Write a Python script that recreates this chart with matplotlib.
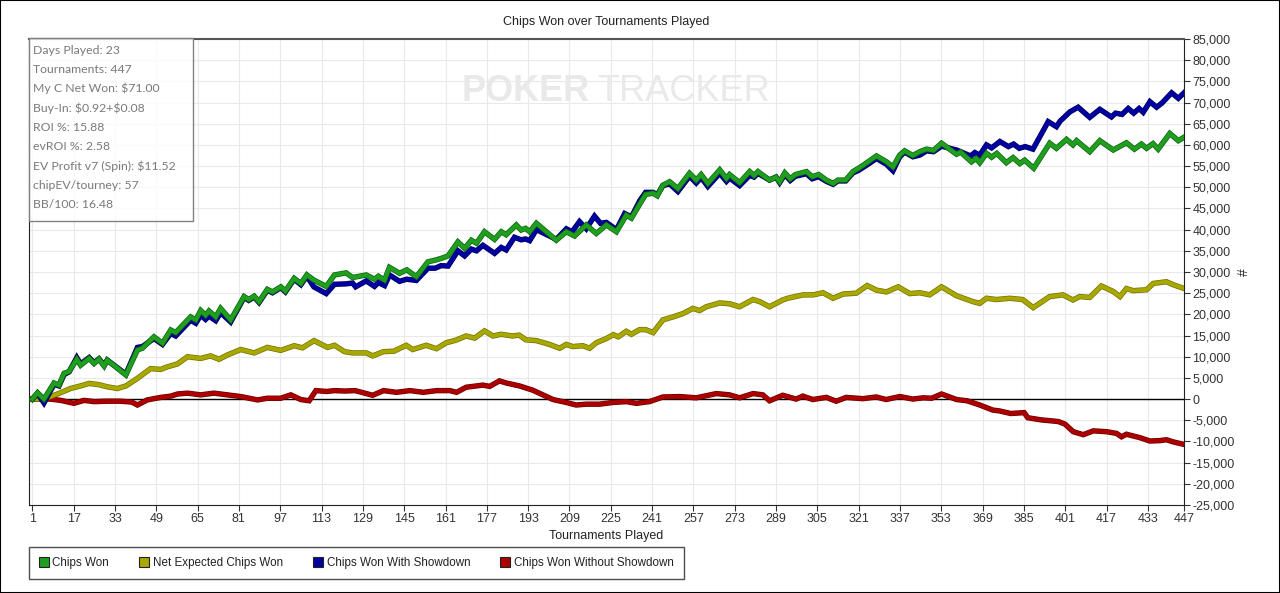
import matplotlib
matplotlib.use("Agg")
import matplotlib.pyplot as plt
import matplotlib.patheffects as pe
from matplotlib.lines import Line2D
from matplotlib.patches import Rectangle
from matplotlib.ticker import FuncFormatter

# --- data (tournament number, chips in thousands) ---
won_x = [1, 3, 5.5, 9.4, 11.3, 13.3, 15.2, 18.2, 19.7, 23, 24.9, 26.8, 28.8, 30,
         37.2, 41.7, 43.6, 48.1, 51.4, 54.6, 56.5, 62.3, 64.3, 66.2, 68.1, 69.4,
         72, 73.9, 77.8, 83, 84.8, 86.9, 88.8, 92, 94, 97.2, 99, 102.4, 105,
         107.3, 110, 114.8, 118, 122.5, 125, 130.3, 133.5, 135, 137.4, 139.3,
         143.2, 146, 149.7, 154.2, 157, 159.3, 162, 165.8, 168.4, 171, 173,
         176.1, 180, 182.6, 184.5, 188.4, 190.3, 192, 193.6, 196.2, 203.9,
         207.8, 211, 215.5, 219.4, 223.3, 227.2, 231, 233, 236.2, 238.5, 241.4,
         243, 245.2, 247.8, 251, 255.5, 258.1, 260, 262.6, 267.2, 269.8, 271,
         274.9, 278.8, 280.5, 282, 286.5, 289, 290.4, 292.4, 294.5, 296.5,
         300.8, 303, 305.5, 308.5, 311.1, 313, 316, 318.8, 321, 323, 325.3,
         327.9, 331.8, 334.3, 336.9, 338.8, 342, 344.7, 347.3, 350, 353.1,
         358.9, 360.5, 364.7, 366.5, 367.9, 370.5, 372.5, 374.5, 378.2, 380.8,
         383.4, 385.3, 388.8, 395, 397.6, 401.5, 404, 405.4, 410.5, 414.4,
         419.6, 424.7, 427.8, 430.5, 432.5, 435, 437, 441.5, 444.8, 447]
won_y = [0, 1.5, 0, 3.8, 3.3, 6.1, 6.5, 9.4, 8.0, 9.6, 8.4, 9.4, 7.8, 9.2,
         5.7, 11.6, 12.0, 14.7, 13.2, 16.3, 15.7, 19.4, 18.7, 20.9, 19.8, 20.8,
         19.4, 21.4, 18.7, 24.2, 23.5, 24.3, 23.0, 25.9, 25.3, 26.5, 25.5, 28.5,
         27.3, 29.3, 28.1, 26.6, 29.3, 29.8, 28.7, 29.3, 28.3, 29.0, 28.1, 31.1,
         29.7, 30.5, 28.9, 32.4, 32.8, 33.2, 33.8, 37.1, 35.6, 37.5, 36.8,
         39.5, 37.7, 39.5, 38.8, 41.1, 39.9, 40.3, 39.5, 41.5, 37.5,
         39.5, 38.5, 41.1, 39.1, 41.1, 39.5, 43.4, 42.7, 46.0, 48.3, 48.6,
         48.0, 50.5, 51.3, 49.7, 53.3, 51.7, 53.0, 50.9, 54.1, 52.1, 53.0,
         51.1, 53.7, 52.8, 53.7, 51.7, 52.4, 51.3, 53.4, 52.0, 53.0,
         53.7, 52.5, 53.0, 51.7, 50.9, 51.7, 51.7, 53.7, 54.5, 55.3, 56.3,
         57.4, 56.0, 54.8, 57.6, 58.6, 57.5, 58.4, 59.0, 58.7, 60.4,
         57.8, 58.3, 56.0, 56.8, 55.8, 58.0, 57.1, 58.0, 55.8, 57.0,
         55.6, 56.4, 54.5, 60.4, 59.2, 61.3, 60.0, 61.0, 58.4, 61.0,
         58.8, 60.5, 59.0, 60.2, 59.2, 60.3, 59.0, 62.7, 61.0, 61.8]

sd_x = [1, 3, 5.5, 9.4, 11.3, 13.3, 15.2, 18.2, 19.7, 23, 24.9, 26.8, 28.8, 30,
        37.2, 41.7, 43.6, 48.1, 51.4, 54.6, 56.5, 62.3, 64.3, 66.2, 68.1, 69.4,
        72, 73.9, 77.8, 83, 84.8, 86.9, 88.8, 92, 94, 97.2, 99, 102.4, 105,
        107.3, 110, 114.8, 118, 122.5, 125, 126.2, 130.3, 133.5, 135, 137.4,
        139.3, 143.2, 146, 149.7, 154.2, 157, 159.3, 162, 165.8, 168.4, 171,
        173, 175.5, 180, 182.6, 184.5, 187.7, 190.3, 192, 193.6, 196.2, 203.9,
        207.8, 210, 212.9, 215.5, 218.7, 221, 223.3, 227.2, 230.4, 233, 236.2,
        238.5, 241.4, 243, 245.2, 247.8, 251, 255.5, 258.1, 260, 262.6, 267.2,
        269.8, 271, 274.9, 278.8, 280.5, 282, 286.5, 289, 290.4, 292.4, 294.5,
        296.5, 300.8, 303, 305.5, 308.5, 311.1, 313, 316, 318.8, 321, 323,
        325.3, 327.9, 331.8, 334.3, 336.9, 338.8, 342, 344.7, 347.3, 350,
        353.1, 358.9, 364.3, 366, 367.9, 370.5, 372.5, 375.7, 379, 381, 383.2,
        385.5, 388.5, 394.4, 397.6, 399, 402.8, 406, 410.5, 414.4, 418.9,
        420.5, 423, 425.4, 427.5, 429.6, 431.2, 433.8, 436.4, 438.5, 442.2,
        444.8, 447]
sd_y = [0, 1.3, -0.9, 3.5, 3.1, 5.8, 6.4, 9.8, 8.3, 9.8, 8.6, 9.5, 8.0, 9.2,
        5.9, 12.2, 12.4, 14.3, 12.9, 15.5, 14.9, 18.6, 17.9, 19.8, 18.8, 19.6,
        18.5, 20.4, 18.2, 24.0, 23.3, 24.1, 22.8, 25.7, 25.1, 26.3, 25.3, 28.3,
        27.0, 29.0, 26.5, 24.9, 27.1, 27.2, 27.4, 26.5, 27.9, 26.6, 27.5, 26.8,
        29.3, 27.8, 28.3, 28.0, 30.9, 30.9, 31.5, 31.4, 35.0, 33.8, 35.4,
        35.0, 36.3, 34.4, 35.8, 35.2, 38.2, 37.6, 37.8, 37.4, 40.0, 37.7,
        40.2, 39.5, 41.9, 40.2, 43.2, 41.5, 41.7, 40.0, 43.8, 43.0, 46.8,
        48.8, 48.8, 48.2, 50.4, 50.8, 49.0, 52.6, 51.0, 52.3, 50.2, 53.3,
        51.4, 52.2, 50.4, 52.8, 52.4, 53.3, 51.7, 52.4, 51.1, 53.0, 51.6,
        52.6, 53.2, 52.0, 52.5, 51.4, 50.7, 51.5, 51.5, 53.4, 54.0, 54.8,
        55.7, 56.8, 55.4, 53.9, 57.2, 58.3, 57.2, 57.6, 58.6, 58.4,
        59.7, 58.8, 57.4, 58.2, 57.6, 60.0, 59.3, 60.8, 59.6, 60.2, 59.2,
        59.6, 59.0, 65.5, 64.3, 65.6, 67.8, 68.9, 66.5, 68.4, 66.6,
        67.5, 67.2, 68.6, 67.5, 68.6, 67.7, 70.2, 68.9, 69.9, 72.3,
        71.0, 72.3]

ev_x = [1, 4.9, 8.1, 11.5, 15.8, 19.6, 23, 26.8, 30, 33.9, 37.2, 41.7, 46.8,
        50.7, 53.2, 57.2, 61.1, 66.2, 70, 73.3, 76.5, 81.7, 86.9, 92, 97.2,
        102.4, 105.6, 110.1, 115.3, 118, 121.9, 125, 130.3, 132.8, 137, 141,
        145.8, 148.3, 153.5, 157.5, 161.3, 165, 169, 172.3, 176.1, 179.4,
        182.5, 187, 189.5, 192.1, 196.2, 201.3, 205.2, 207.8, 210.3, 214.2,
        216.8, 219.4, 223.3, 226, 227.9, 231, 233, 236.2, 238.5, 241.4, 245.2,
        249.1, 253, 256.8, 259.4, 262, 267.2, 271, 274.9, 280.1, 282.7, 286.5,
        291.6, 293.5, 299.5, 303.4, 307.2, 311.1, 315, 320.1, 324.3, 328,
        331.8, 336.3, 340.8, 344.7, 348.5, 353.1, 358.9, 365.3, 367.9, 370.5,
        374.4, 379.5, 384.5, 388.6, 395, 400.1, 404, 406.6, 410.5, 415, 419.6,
        422.2, 424.7, 427.3, 432.5, 435.1, 440.2, 442.8, 447]
ev_y = [0, 0, 0.6, 1.4, 2.5, 3.1, 3.7, 3.4, 2.9, 2.5, 3.1, 4.9, 7.2,
        7.0, 7.6, 8.3, 10.0, 9.6, 10.2, 9.4, 10.4, 11.7, 10.9, 12.2, 11.5,
        12.6, 12.1, 13.8, 12.2, 12.7, 11.2, 10.9, 10.9, 10.2, 11.2, 11.3,
        12.7, 11.7, 12.7, 11.9, 13.3, 13.9, 14.9, 14.4, 16.1, 14.9,
        15.3, 14.9, 15.1, 14.0, 13.8, 12.9, 12.0, 12.9, 12.4, 12.6,
        12.0, 13.3, 14.3, 15.2, 14.7, 16.0, 15.3, 16.4, 16.4, 15.7, 18.7,
        19.4, 20.2, 21.4, 20.9, 21.8, 22.7, 22.5, 21.8, 23.5, 23.0, 21.8,
        23.4, 23.8, 24.6, 24.6, 25.1, 23.8, 24.8, 25.0, 26.8, 25.7,
        25.3, 26.5, 24.9, 25.1, 24.6, 26.5, 24.4, 23.0, 22.6, 23.8,
        23.5, 23.8, 23.5, 21.6, 24.2, 24.6, 23.4, 24.2, 24.0, 26.7, 25.4,
        24.2, 26.1, 25.6, 25.8, 27.3, 27.7, 27.0, 26.1]

nosd_x = [1, 8, 12, 17.1, 21, 24.9, 30, 35, 39.5, 41.7, 45.5, 50.7, 54.6, 57.2,
          61.1, 66.2, 71.3, 76.5, 81.7, 88.2, 92, 97.2, 101.1, 104.9, 108.2,
          110.8, 115, 118, 122, 126, 132.8, 137, 142, 147.2, 152.4, 157.5,
          162.7, 165.3, 169, 175.5, 178.1, 181.9, 184.5, 189.7, 194.8, 198.7,
          202.6, 207.8, 211.6, 215.5, 220.7, 225.8, 231, 234.9, 240, 245.2,
          251.7, 258.1, 265.9, 271, 274.9, 280.1, 283.9, 286.5, 291.6, 296.8,
          299.4, 303.2, 308.5, 312.3, 316.2, 322.6, 327.8, 331.6, 337, 342,
          346, 349.3, 353.1, 358.9, 363, 367.9, 373, 375.6, 379.9, 385.1,
          386.5, 391.6, 398.3, 400.9, 404.1, 408, 411.9, 417, 420.9, 422.8,
          424.7, 429.9, 433.8, 437.7, 440.2, 442.8, 447]
nosd_y = [0, 0, -0.3, -1.0, -0.3, -0.6, -0.5, -0.5, -0.7, -1.4, -0.2, 0.4, 0.7,
          1.2, 1.4, 1.0, 1.4, 1.0, 0.6, -0.2, 0.2, 0.2, 1.0, -0.1, -0.4,
          2.0, 1.8, 2.0, 1.9, 2.0, 0.9, 2.0, 1.6, 2.0, 1.6, 2.0,
          2.0, 1.6, 2.8, 3.3, 3.0, 4.3, 3.8, 3.1, 2.1, 1.0,
          -0.1, -0.8, -1.4, -1.2, -1.2, -0.8, -0.6, -1.0, -0.6, 0.5,
          0.6, 0.3, 1.3, 1.0, 0.3, 1.3, 1.0, -0.4, 0.9, 0.0,
          0.7, -0.1, 0.4, -0.5, 0.4, 0.1, 0.5, -0.1, 0.6, 0.0,
          0.3, 0.2, 1.2, -0.1, -0.4, -1.4, -2.6, -2.8, -3.4, -3.2,
          -4.4, -4.9, -5.3, -5.9, -7.7, -8.4, -7.5, -7.7, -8.1, -8.9,
          -8.3, -9.1, -9.9, -9.8, -9.6, -10.1, -10.7]

series_labels = ["Chips Won", "Net Expected Chips Won",
                 "Chips Won With Showdown", "Chips Won Without Showdown"]
series_colors = ["#1f9e1f", "#a8a800", "#0000a0", "#ac0000"]
edge_colors = ["#0c620c", "#707000", "#00005a", "#680000"]

x_ticks = [1, 17, 33, 49, 65, 81, 97, 113, 129, 145, 161, 177, 193, 209, 225,
           241, 257, 273, 289, 305, 321, 337, 353, 369, 385, 401, 417, 433, 447]
y_ticks = list(range(-25000, 85001, 5000))

stats = ["Days Played: 23", "Tournaments: 447", "My C Net Won: \\$71.00",
         "Buy-In: \\$0.92+\\$0.08", "ROI %: 15.88", "evROI %: 2.58",
         "EV Profit v7 (Spin): \\$11.52", "chipEV/tourney: 57", "BB/100: 16.48"]

W, H = 1280, 593
plt.rcParams["font.family"] = ["Liberation Sans", "DejaVu Sans"]
fig = plt.figure(figsize=(W / 100, H / 100), dpi=100)
ax = fig.add_axes([29 / W, 1 - 505 / H, (1184 - 29) / W, (505 - 39) / H])


def px(x, y):
    return x / W, 1 - y / H


# draw order: red, olive, blue, green on top
order = [(nosd_x, nosd_y, 3), (ev_x, ev_y, 1), (sd_x, sd_y, 2), (won_x, won_y, 0)]
for xs, ys, i in order:
    ax.plot(xs, [v * 1000 for v in ys], color=series_colors[i], lw=2.9,
            solid_joinstyle="miter", zorder=3 + (i == 0),
            path_effects=[pe.Stroke(linewidth=3.9, foreground=edge_colors[i]),
                          pe.Normal()])

ax.axhline(0, color="black", lw=1, zorder=2)
ax.set_xlim(-0.3, 447)
ax.set_ylim(-25000, 85000)
ax.set_xticks(x_ticks)
ax.set_yticks(y_ticks)
ax.yaxis.tick_right()
ax.yaxis.set_label_position("right")
ax.yaxis.set_major_formatter(FuncFormatter(lambda v, p: f"{int(v):,}"))
ax.tick_params(axis="both", labelsize=9, colors="#333333", length=4,
               width=0.8, pad=2)
ax.grid(True, color="#e9e9e9", lw=0.8, zorder=0)
ax.set_axisbelow(True)
for side in ("left", "bottom", "right"):
    ax.spines[side].set_color("#222222")
ax.spines["top"].set_color("#555555")
ax.spines["top"].set_linewidth(1.5)

ax.set_xlabel("Tournaments Played", fontsize=9, color="#222222", labelpad=3)
ax.set_title("Chips Won over Tournaments Played", fontsize=9, color="#222222",
             pad=10)
fig.text(*px(1244, 272), "#", rotation=90, fontsize=10, ha="center",
         va="center", color="#333333")

# watermark
fig.text(*px(462, 101), "POKER", fontsize=26, fontweight="bold",
         color="#e9e9e9", va="baseline", ha="left", zorder=0)
fig.text(*px(597, 101), "TRACKER", fontsize=26, color="#e9e9e9",
         va="baseline", ha="left", zorder=0)

# stats box
bx0, by0 = px(29, 221)
bx1, by1 = px(193, 38)
fig.add_artist(Rectangle((bx0, by0), bx1 - bx0, by1 - by0,
                         transform=fig.transFigure, facecolor="white",
                         alpha=0.8, edgecolor="none", zorder=5))
fig.add_artist(Rectangle((bx0, by0), bx1 - bx0, by1 - by0,
                         transform=fig.transFigure, facecolor="none",
                         edgecolor="#808080", lw=1, zorder=6))
for k, s in enumerate(stats):
    fig.text(*px(33, 50 + k * 19.3), s, fontsize=8.8, color="#7a7a7a",
             family=["Lato", "DejaVu Sans"], va="center", ha="left", zorder=7)

# legend
handles = [Line2D([], [], ls="none", marker="s", markersize=7,
                  markerfacecolor=c, markeredgecolor="#222222",
                  markeredgewidth=0.8) for c in series_colors]
leg = fig.legend(handles, series_labels, loc="upper left",
                 bbox_to_anchor=px(29, 547), ncol=4, fontsize=8.4,
                 frameon=True, fancybox=False, edgecolor="#222222",
                 handlelength=0.8, handletextpad=0.35, columnspacing=2.6,
                 borderpad=0.85, borderaxespad=0)
leg.get_frame().set_linewidth(1)
for t in leg.get_texts():
    t.set_color("#222222")

fig.add_artist(Rectangle((0, 0), 1, 1, transform=fig.transFigure,
                         fill=False, edgecolor="black", lw=1.5))

fig.savefig("out.png", dpi=100)
